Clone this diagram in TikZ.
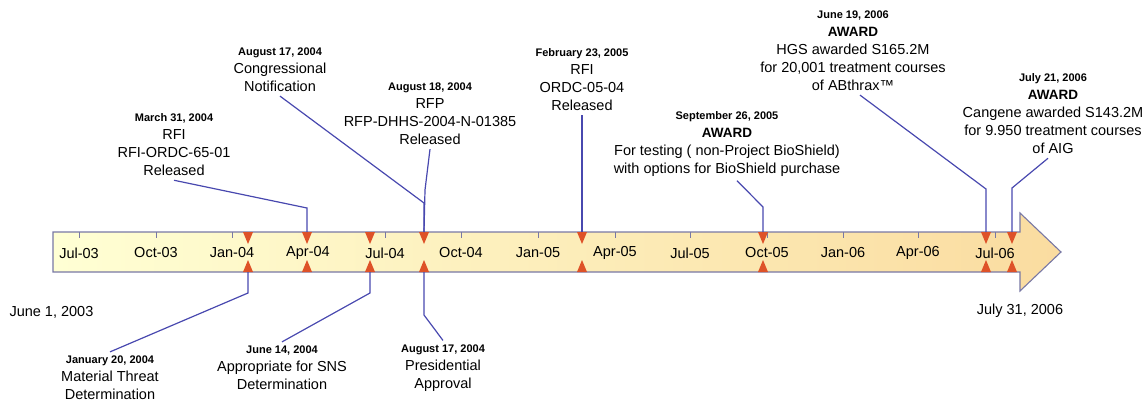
\documentclass[tikz,border=0pt]{standalone}
\usepackage{fontspec}
\setmainfont{Liberation Sans}
\usetikzlibrary{positioning}
\definecolor{barleft}{RGB}{255,255,212}
\definecolor{barright}{RGB}{250,220,160}
\definecolor{barline}{RGB}{120,120,165}
\definecolor{markred}{RGB}{222,82,40}
\definecolor{linkblue}{RGB}{72,72,175}
\newcommand{\when}[1]{{\fontsize{11}{13}\selectfont\bfseries #1}}
\newcommand{\award}{{\fontsize{13.5}{16}\selectfont\bfseries AWARD}}
\tikzset{
x=1pt, y=-1pt, % one unit is one pixel of the timeline, y runs down
event/.style={align=center, inner sep=4pt, font=\fontsize{14.5}{18}\selectfont}, % text blocks above and below
month/.style={inner sep=0pt, font=\fontsize{14.5}{17}\selectfont}, % quarter labels on the bar
link/.style={draw=linkblue, line width=1.2pt}, % connectors from text to marker
}

\begin{document}
\begin{tikzpicture}
                \useasboundingbox (0,0) rectangle (1144,402);
                % the timeline bar with its arrow head
                \shadedraw[left color=barleft, right color=barright, draw=barline, line width=1.1pt]
                    (53,232) -- (1020,232) -- (1020,213) -- (1061,252) -- (1020,291) -- (1020,272) -- (53,272) -- cycle;
                \foreach \tx/\tl in {79/Jul-03, 156/Oct-03, 232/Jan-04, 308/Apr-04, 385/Jul-04, 461/Oct-04, 538/Jan-05,
                                     615/Apr-05, 690/Jul-05, 767/Oct-05, 843/Jan-06, 918/Apr-06, 995/Jul-06} {
                    \draw[barline, line width=1pt] (\tx,232) -- (\tx,238);
                    \node[month] (q\tl) at (\tx,253) {\tl};
                }
                % markers on both edges of the bar
                \foreach \mx [count=\k] in {248,307,370,424,582,763,986,1012} {
                    \coordinate (top\k) at (\mx,232);
                    \coordinate (bot\k) at (\mx,272);
                    \fill[markred] (\mx-5,232) -- (\mx+5,232) -- (\mx,244) -- cycle;
                    \fill[markred] (\mx-5,272) -- (\mx+5,272) -- (\mx,260) -- cycle;
                }
                \node[anchor=west, font=\fontsize{14.5}{17}\selectfont] (first) at (6,312) {June 1, 2003};
                \node[font=\fontsize{14.5}{17}\selectfont] (last) at (1020,311) {July 31, 2006};
                % events above the bar
                \node[event] (rfi1) at (174,145) {\when{March 31, 2004}\\RFI\\RFI-ORDC-65-01\\Released};
                \node[event] (notice) at (280,70) {\when{August 17, 2004}\\Congressional\\Notification};
                \node[event] (rfp) at (430,114) {\when{August 18, 2004}\\RFP\\RFP-DHHS-2004-N-01385\\Released};
                \node[event] (rfi2) at (582,80) {\when{February 23, 2005}\\RFI\\ORDC-05-04\\Released};
                \node[event] (testing) at (727,144) {\when{September 26, 2005}\\\award\\For testing ( non-Project BioShield)\\with options for BioShield purchase};
                \node[event] (hgs) at (853,51) {\when{June 19, 2006}\\\award\\HGS awarded S165.2M\\for 20,001 treatment courses\\of ABthrax\texttrademark};
                \node[event] (cangene) at (1053,114) {\when{July 21, 2006}\\\award\\Cangene awarded S143.2M\\for 9.950 treatment courses\\of AIG};
                % events below the bar
                \node[event] (threat) at (110,378) {\when{January 20, 2004}\\Material Threat\\Determination};
                \node[event] (sns) at (282,368) {\when{June 14, 2004}\\Appropriate for SNS\\Determination};
                \node[event] (approval) at (443,368) {\when{August 17, 2004}\\Presidential\\Approval};
                % bends of the connectors
                \coordinate (kRfi1) at (307,208);
                \coordinate (kNotice) at (424,203);
                \coordinate (kRfp) at (425,190);
                \coordinate (kTesting) at (763,207);
                \coordinate (kHgs) at (986,189);
                \coordinate (kCangene) at (1012,188);
                \coordinate (kThreat) at (248,293);
                \coordinate (kSns) at (370,293);
                \coordinate (kApproval) at (424,315);
                \draw[link] (rfi1.south) -- (kRfi1) -- (top2);
                \draw[link] (notice.south) -- (kNotice) -- (top4);
                \draw[link] (rfp.south) -- (kRfp) -- (top4);
                \draw[link] (rfi2.south) -- (top5);
                \draw[link] ([xshift=10]testing.south) -- (kTesting) -- (top6);
                \draw[link] ([xshift=7]hgs.south) -- (kHgs) -- (top7);
                \draw[link] ([xshift=-5]cangene.south) -- (kCangene) -- (top8);
                \draw[link] (threat.north) -- (kThreat) -- (bot1);
                \draw[link] (sns.north) -- (kSns) -- (bot3);
                \draw[link] (approval.north) -- (kApproval) -- (bot4);
            \end{tikzpicture}
\end{document}
